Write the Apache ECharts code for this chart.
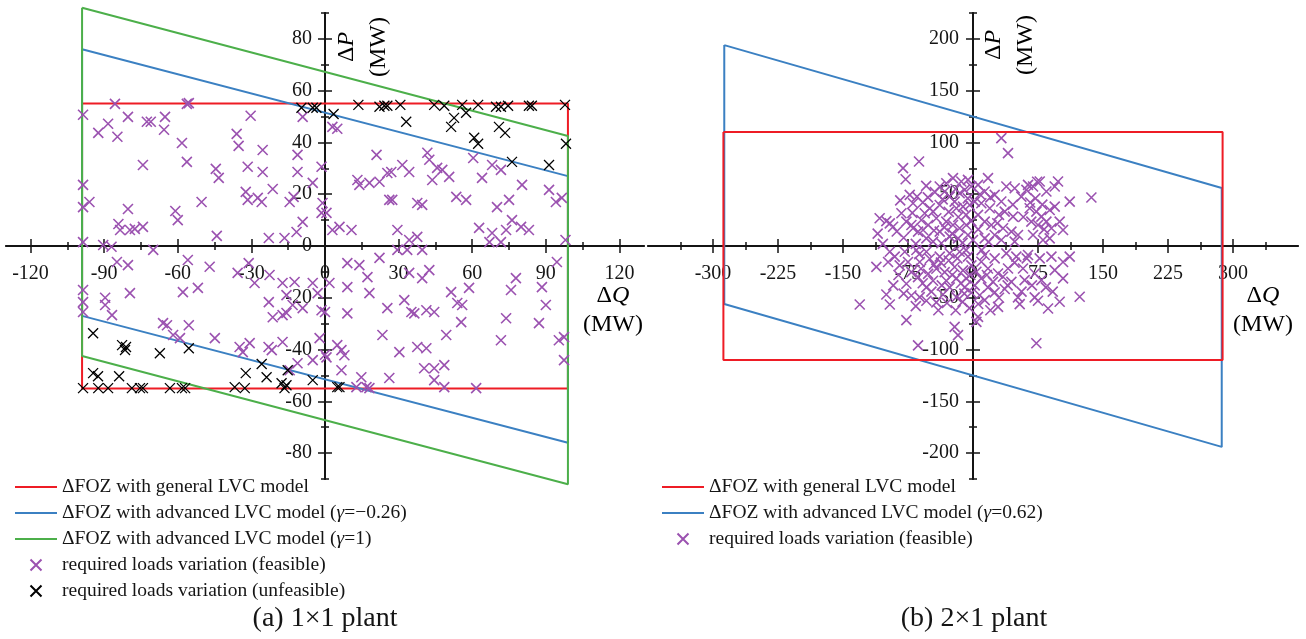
<!DOCTYPE html>
<html>
<head>
<meta charset="utf-8">
<script src="https://cdn.jsdelivr.net/npm/echarts@6/dist/echarts.min.js"></script>
<style>html,body{margin:0;padding:0;background:#fff}#main{width:1306px;height:639px}</style>
</head>
<body>
<div id="main"></div>
<script>
// ---- data: (a) 1x1 plant ----
const fozGeneralA_q = [-99, 99, 99, -99, -99];
const fozGeneralA_p = [55, 55, -55, -55, 55];
const fozAdvNegA_q = [-99, 99, 99, -99, -99];
const fozAdvNegA_p = [76, 27, -76, -27, 76];
const fozAdvOneA_q = [-99, 99, 99, -99, -99];
const fozAdvOneA_p = [92, 42.5, -92, -42.5, 92];

const feasibleA = [
  [-98.6,50.7],[-85.6,54.9],[-92.4,43.7],[-88.4,47.2],[-84.6,42.2],[-80.3,49.9],[-72.6,48],[-71,48],[-65.2,49.9],[-65.6,44.9],
  [-56.3,54.9],[-55.5,55.2],[-58.3,39.8],[-56.3,32.5],[-74.2,31.3],[-98.6,23.6],[-96,17],[-98.6,15],[-80.3,14.3],[-84.2,8.5],
  [-83.5,6.2],[-79.5,6.2],[-77.5,6.6],[-74.2,7.4],[-61,13.5],[-60,10],[-50.3,17],[-44.1,3.9],[-44.5,29.8],[-43.3,26.3],
  [-36,43.3],[-35.2,38.7],[-30.3,50.3],[-31.5,30.6],[-32.3,20.9],[-31.5,17.8],[-27.4,18.6],[-25.8,17],[-25.4,37.1],[-25.4,28.6],
  [-21.3,22],[-22.9,3.1],[-16.5,3.1],[-14.4,17],[-11.2,35.2],[-11.2,28.6],[-12.8,19],[-9.1,9.3],[-11.6,5.4],[-9.1,49.9],
  [-5,24.4],[-1.4,30.6],[-1.4,12.8],[-90.4,0.4],[-87,-0.3],
  [3,46],[5,45.3],[21,35.2],[13.2,25.5],[14,23.6],[18.1,24.4],[22.2,24.8],[25.4,28.2],[27,28.6],[31.5,31.3],
  [34.3,28.6],[26.2,17.8],[27.4,17.8],[37.6,16.6],[39.6,15.9],[41.7,36],[42.5,33.3],[43.7,25.5],[45.7,30.2],[47.8,29.4],
  [50.6,26.7],[53.5,19],[57.5,17.8],[60.4,34],[64,26.3],[68.1,31.3],[71.7,29.4],[70.1,15],[75,17.8],[80.3,23.6],
  [91.3,21.7],[94.1,17],[96.5,18.6],[0.6,12.8],[-1,16.6],[3,6.2],[5.9,7.4],[10.8,6.2],[29.5,6.2],[34.3,2.3],
  [37.6,3.5],[62.8,7],[68.1,5],[73.8,6.2],[76.2,10],[79.9,7.4],[83.1,6.2],[98,2.3],
  [-98.6,1.5],[-84.8,-6.2],[-80.3,-7.4],[-70,-1.5],[-55.9,-5.4],[-47,-8],[-98.6,-17],[-98.6,-21.7],[-98.6,-25.5],[-89.6,-20],
  [-89.6,-22.8],[-86.8,-26.7],[-79.5,-18.2],[-57.9,-17.8],[-51.8,-16.2],[-66,-29.8],[-64.4,-30.6],[-61.9,-34.4],[-59.1,-35.6],[-55.5,-30.6],
  [-44.9,-35.6],[-35.6,-10.4],[-31.1,-6.6],[-28.7,-14.3],[-22.6,-11.2],[-22.9,-21.7],[-21.3,-27.5],[-17.3,-14.3],[-12.4,-13.9],[-15.7,-19],
  [-15.7,-25.9],[-17.3,-26.7],[-13.2,-22.8],[-9.1,-24],[-5,-14.3],[-3,-18.2],[-1.4,-24.8],[-2.2,-35.6],[-34.8,-39],[-33.5,-41],
  [-30.7,-37.5],[-23,-39],[-21.7,-40.2],[-17.3,-37.1],[-14.4,-48],[-11.2,-45.3],[-5,-44.1],[0,-42],
  [9.1,-6.6],[14,-7.4],[17.3,-12],[22.2,-4.6],[18.1,-18.2],[9.1,-15.9],[1.8,-14.3],[0,-25.5],[9.1,-26],[32.3,-20.9],
  [25.4,-24],[23.4,-34.4],[30.3,-41],[35.2,-25.5],[36.4,-26],[41.3,-24.8],[44.5,-25.5],[37.6,-39],[41.3,-39.5],[40.4,-47.2],
  [44.5,-47.2],[48.6,-46],[44.5,-51.8],[48.6,-54.5],[61.6,-54.9],[14.8,-50.7],[16.9,-54.5],[18.1,-54.9],[12.8,-54.5],[26.2,-51],
  [6.7,-40.2],[5,-38.3],[0.6,-43],[6.7,-48],[7.9,-42.2],[49.4,-34.4],[51.4,-17.8],[53.9,-22],[55.9,-22.8],[58.7,-16.2],
  [55.5,-29.4],[71.7,-36.4],[73.8,-27.9],[75.8,-17],[77.8,-12.4],[87.2,-29.8],[88.4,-15.9],[90,-22.8],[94.5,-6.2],[95.3,-36.4],
  [97.4,-35.2],[97.4,-44.1],[29.5,-1.5],[33.5,-1.5],[39.6,-1.5],[67,1.5],[71.7,1.5],[42.5,-9.3],[39.6,-12.4],[34.3,-10.4]
];

const unfeasibleA = [
  [-9.6,53.4],[-5,53.4],[-3.5,53.4],[3.5,51],[13.6,54.5],[22.2,53.8],[24.2,54.2],[25.4,54.2],[30.7,54.5],[33.1,48],
  [44.5,54.5],[48.6,54.2],[51.4,46],[52.6,49.5],[55.9,54.5],[57.5,51.5],[62.4,54.5],[60.8,41.8],[62.4,39.5],[69.7,53.8],
  [71.7,53.8],[74.6,54.2],[70.9,46],[73.4,43.7],[76.2,32.5],[83.1,54.2],[84.3,54.2],[91.3,31.3],[97.8,54.5],[98.2,39.5],
  [-94.5,-33.7],[-82.7,-38.3],[-81.1,-39],[-81.5,-40.2],[-67.3,-41.4],[-55.5,-39.5],[-94.5,-49.1],[-92.5,-50.3],[-83.9,-50.3],[-98.6,-54.9],
  [-92.4,-54.9],[-88.4,-54.9],[-78.7,-54.9],[-75.4,-54.9],[-74.2,-54.9],[-63.2,-54.9],[-58.3,-54.9],[-57,-54.9],[-36.8,-54.5],[-32.7,-54.9],
  [-32.3,-49.1],[-25.8,-45.6],[-23.8,-50.7],[-17.7,-53],[-15.7,-53.8],[-16.5,-54.9],[-15.2,-48],[-5,-51.8],[5,-54.5],[5.9,-54.5]
];

// ---- data: (b) 2x1 plant ----
const fozGeneralB_q = [-288, 288, 288, -288, -288];
const fozGeneralB_p = [110, 110, -110, -110, 110];
const fozAdvB_q = [-287, 287, 287, -287, -287];
const fozAdvB_p = [194, 56, -194, -56, 194];

const feasibleB = [
  [-62.3,81.6],[-80.7,75.2],[-77.7,64.5],[-73,49.4],[-64.6,47.7],[-69.2,41.3],[-82.6,31.6],[-107.7,26.8],[-96,21.9],[-92.2,18.6],
  [-100,24],[-76.9,23.5],[-71.1,20.3],[-59.6,25.1],[-55.7,31.6],[-49.9,36.4],[-38.4,57.4],[-30.8,60.6],[-23.1,65.5],[-13.5,62.3],
  [-5.8,63.9],[-32.7,52.6],[-26.9,47.7],[-21.2,42.9],[-38.4,39.6],[-46.1,33.2],[-42.3,26.8],[-15.4,50.9],[-9.6,54.2],[-1.9,57.4],
  [-19.2,36.4],[-11.5,38],[-3.8,39.6],[2,42.9],[-51.8,20.3],[-57.6,15.5],[-63.4,13.9],[-69.2,17.1],[-30.8,23.5],[-23.1,20.3],
  [-15.4,17.1],[-7.7,20.3],[-38.4,13.9],[-26.9,9],[-17.3,7.4],[-53.8,7.4],[-46.1,4.2],[-36.5,2.6],[-5.8,10.6],[0,5.8],
  [-111.5,-20.1],[-96,-5.5],[-90.3,-10.3],[-78.7,-5.5],[-65.3,-3.9],[-53.8,-5.5],[-98,-15.5],[-84.6,-18.7],[-75,-15.5],[-61.5,-15.5],
  [-49.9,-12.3],[-38.4,-10.3],[-26.9,-7.1],[-15.4,-5.5],[-5.8,-10.3],[-71.1,-25.2],[-63.4,-30],[-51.8,-26.9],[-42.3,-22],[-32.7,-25.2],
  [-21.2,-20.3],[-11.5,-23.6],[-1.9,-18.7],[-100,-46.8],[-96,-56.5],[-130.7,-56.5],[-76.9,-36.5],[-71.1,-47.8],[-61.5,-49.4],[-53.8,-40],
  [-46.1,-33.6],[-53.8,-52.9],[-42.3,-54.5],[-34.6,-46.8],[-26.9,-40],[-19.2,-49.4],[-9.6,-40],[-1.9,-45.2],[-30.8,-33.6],[-19.2,-31.3],
  [-7.7,-31.3],[-76.9,-71.6],[-63.4,-95.9],[-21.2,-78.1],[-17.3,-86.1],
  [32.7,104.2],[40.4,89.7],[17.3,65.5],[5.8,59],[13.5,52.6],[25,49.4],[32.7,43],[38.5,57.4],[48.1,55.8],[55.8,47.7],
  [63.5,59],[69.3,57.4],[61.6,54.2],[77,62.3],[84.7,52.6],[94.3,57.4],[98.1,62.3],[111.6,42.9],[136.6,46.8],[9.6,41.3],
  [19.3,36.4],[5.8,30],[13.5,23.5],[21.2,20.3],[36.6,33.2],[46.2,28.4],[34.7,17.1],[44.3,13.9],[65.4,36.4],[73.1,33.2],
  [78.9,28.4],[88.5,34.8],[94.3,38],[67.3,23.5],[75,20.3],[84.7,23.5],[90.5,17.1],[100,23.5],[103.9,15.5],[69.3,10.6],
  [80.8,5.8],[88.5,7.4],[25,10.6],[32.7,5.8],[13.5,7.4],[51.9,10.6],[48.1,4.2],
  [13.5,-8.7],[25,-12],[38.5,-7.1],[50,-10.3],[63.5,-8.7],[77,-12],[90.5,-10.3],[103.9,-15.5],[111.6,-10.3],[17.3,-21.7],
  [28.9,-26.5],[40.4,-21.7],[9.6,-31.3],[23.1,-34.6],[34.6,-29.7],[44.3,-34.6],[57.7,-21.7],[59.6,-33],[71.2,-26.5],[78.9,-33],
  [103.9,-31.3],[94.3,-23.3],[17.3,-39.9],[25,-44.8],[36.6,-41.5],[51.9,-49.6],[53.9,-56.1],[71.2,-49.6],[75,-52.9],[86.6,-60.3],
  [100,-53.8],[123.1,-49],[28.9,-58.8],[5.8,-68.4],[3.9,-73.3],[73.1,-93.9],[7.7,-47.6],[13.5,-52.3],[9.6,-15.2],[3.9,-24.9],
  [-58,42],[-52,47],[-44,52],[-35,45],[-28,33],[-17,28],[-8,30],[-2,24],[-45,15],[-33,18],
  [-24,12],[-12,3],[-62,-8],[-45,-18],[-37,-16],[-28,-14],[-18,-12],[-8,-4],[-3,-28],[-14,-36],
  [-24,-28],[-36,-38],[-48,-44],[-58,-36],[-66,-58],[-40,-62],[-30,-55],[-12,-54],[-4,-60],[-86,-28],
  [-88,14],[-80,8],[-66,2],[-84,44],[-92,-38],[6,16],[10,-4],[18,4],[28,22],[20,47],
  [30,30],[40,-38],[48,-16],[56,-44],[62,-12],[66,42],[72,46],[80,40],[82,16],[68,-38],
  [84,-40],[92,-44],[6,-56],[20,-62],[30,-50],[16,-28],[2,-38],[46,40],[58,28],[74,62],
  [8,50],[-10,-46],[-20,-62],[-54,58],[-70,32],[-20,55],[-6,46],[-60,-22],[-80,-46],[-104,2],[-110,12]
];

// ---- axis ticks ----
const ticksAx_major = [-120, -90, -60, -30, 0, 30, 60, 90, 120];
const ticksAx_minor = [-105, -75, -45, -15, 15, 45, 75, 105];
const ticksAy_major = [-80, -60, -40, -20, 0, 20, 40, 60, 80];
const ticksAy_minor = [-90, -70, -50, -30, -10, 10, 30, 50, 70, 90];
const ticksBx_major = [-300, -225, -150, -75, 0, 75, 150, 225, 300];
const ticksBx_minor = [-337.5, -262.5, -187.5, -112.5, -37.5, 37.5, 112.5, 187.5, 262.5, 337.5];
const ticksBy_major = [-200, -150, -100, -50, 0, 50, 100, 150, 200];
const ticksBy_minor = [-225, -175, -125, -75, -25, 25, 75, 125, 175, 225];

const nameRed = 'ΔFOZ with general LVC model';
const nameBlueA = 'ΔFOZ with advanced LVC model (γ=−0.26)';
const nameGreenA = 'ΔFOZ with advanced LVC model (γ=1)';
const nameBlueB = 'ΔFOZ with advanced LVC model (γ=0.62)';
const nameFeas = 'required loads variation (feasible)';
const nameUnfeas = 'required loads variation (unfeasible)';

const FONT = '"Liberation Serif", "Times New Roman", serif';
const INK = '#151515';
const RED = '#ee1c25', BLUE = '#3b80c2', GREEN = '#4caf4a', PURPLE = '#9b52b0';
const CROSS = 'path://M0,0L10,10M10,0L0,10';
const DASH = 'path://M0,0H42V2H0Z';

const zip = (q, p) => q.map((v, i) => [v, p[i]]);

// label axis sits at the zero line through a negative offset;
// the other axes draw the line and the crossing major / minor ticks
function axisGroup(dim, gridIndex, min, max, majors, minors, margin, zeroOffset) {
  const pos = dim === 'x' ? 'bottom' : 'left';
  const base = {
    type: 'value', gridIndex, min, max, position: pos,
    splitLine: { show: false },
    axisLine: { onZero: true, lineStyle: { color: INK, width: 1.5 } }
  };
  const tick = (vals, len, inside) => ({ show: true, customValues: vals, length: len, inside, lineStyle: { color: INK, width: 1.5 } });
  return [
    Object.assign({}, base, { offset: zeroOffset, axisLine: { show: false, onZero: false },
      axisTick: { show: false },
      axisLabel: { customValues: majors, margin, color: INK, fontFamily: FONT, fontSize: 20 } }),
    Object.assign({}, base, { axisTick: tick(majors, 7, true), axisLabel: { show: false } }),
    Object.assign({}, base, { axisTick: tick(majors, 7, false), axisLabel: { show: false } }),
    Object.assign({}, base, { axisTick: tick(minors, 4, false), axisLabel: { show: false } }),
    Object.assign({}, base, { axisTick: tick(minors, 4, true), axisLabel: { show: false } })
  ];
}

function lineSeries(name, data, color, axis, z) {
  return { type: 'line', name, data, xAxisIndex: axis, yAxisIndex: axis, symbol: 'none',
    clip: false, lineStyle: { color, width: 2 }, itemStyle: { color }, z, silent: true };
}
function crossSeries(name, data, color, axis, w) {
  return { type: 'scatter', name, data, xAxisIndex: axis, yAxisIndex: axis, symbol: CROSS,
    symbolSize: 10, symbolKeepAspect: true,
    itemStyle: { color, borderColor: color, borderWidth: w, opacity: 1 }, z: 6, silent: true };
}

const legendText = {
  fontFamily: FONT, fontSize: 19.5, color: INK, lineHeight: 20,
  rich: { i: { fontFamily: FONT, fontSize: 19.5, color: INK, fontStyle: 'italic', lineHeight: 20 } }
};
const fmtLegend = (n) => n.replace('γ', '{i|γ}');
const lineItem = (name) => ({ name, icon: DASH });

const nameRich = {
  n: { fontFamily: FONT, fontSize: 24, color: INK, lineHeight: 32 },
  i: { fontFamily: FONT, fontSize: 24, color: INK, fontStyle: 'italic', lineHeight: 32 }
};
const nameRichQ = {
  n: { fontFamily: FONT, fontSize: 24, color: INK, lineHeight: 29 },
  i: { fontFamily: FONT, fontSize: 24, color: INK, fontStyle: 'italic', lineHeight: 29 }
};

let myChart = echarts.init(document.getElementById('main'));

let options = {
  animation: false,
  backgroundColor: '#fff',
  grid: [
    { left: 6, top: 13, width: 638, height: 466, outerBoundsMode: 'none' },
    { left: 648, top: 13, width: 650, height: 466, outerBoundsMode: 'none' }
  ],
  xAxis: [].concat(
    axisGroup('x', 0, -130, 130, ticksAx_major, ticksAx_minor, 18, -233),
    axisGroup('x', 1, -375, 375, ticksBx_major, ticksBx_minor, 18, -233)
  ),
  yAxis: [].concat(
    axisGroup('y', 0, -90, 90, ticksAy_major, ticksAy_minor, 13, -319),
    axisGroup('y', 1, -225, 225, ticksBy_major, ticksBy_minor, 14, -325)
  ),
  legend: [
    { left: 10, top: 472, orient: 'vertical', itemWidth: 42, itemHeight: 11, itemGap: 6,
      selectedMode: false,
      data: [lineItem(nameRed), lineItem(nameBlueA), lineItem(nameGreenA), nameFeas, nameUnfeas],
      textStyle: legendText, formatter: fmtLegend },
    { left: 657, top: 472, orient: 'vertical', itemWidth: 42, itemHeight: 11, itemGap: 6,
      selectedMode: false,
      data: [lineItem(nameRed), lineItem(nameBlueB), nameFeas],
      textStyle: legendText, formatter: fmtLegend }
  ],
  graphic: [
    { type: 'text', x: 363, y: 47, rotation: Math.PI / 2,
      style: { text: '{n|Δ}{i|P}\n{n|(MW)}', rich: nameRich, align: 'center', verticalAlign: 'middle' } },
    { type: 'text', x: 1010, y: 45, rotation: Math.PI / 2,
      style: { text: '{n|Δ}{i|P}\n{n|(MW)}', rich: nameRich, align: 'center', verticalAlign: 'middle' } },
    { type: 'text', x: 613, y: 310,
      style: { text: '{n|Δ}{i|Q}\n{n|(MW)}', rich: nameRichQ, align: 'center', verticalAlign: 'middle' } },
    { type: 'text', x: 1263, y: 310,
      style: { text: '{n|Δ}{i|Q}\n{n|(MW)}', rich: nameRichQ, align: 'center', verticalAlign: 'middle' } },
    { type: 'text', x: 325, y: 619,
      style: { text: '(a) 1×1 plant', font: '28px ' + FONT, fill: INK, align: 'center', verticalAlign: 'middle' } },
    { type: 'text', x: 974, y: 619,
      style: { text: '(b) 2×1 plant', font: '28px ' + FONT, fill: INK, align: 'center', verticalAlign: 'middle' } }
  ],
  series: [
    lineSeries(nameRed, zip(fozGeneralA_q, fozGeneralA_p), RED, 0, 3),
    lineSeries(nameBlueA, zip(fozAdvNegA_q, fozAdvNegA_p), BLUE, 0, 3),
    lineSeries(nameGreenA, zip(fozAdvOneA_q, fozAdvOneA_p), GREEN, 0, 3),
    crossSeries(nameFeas, feasibleA, PURPLE, 0, 1.6),
    crossSeries(nameUnfeas, unfeasibleA, '#000', 0, 1.3),
    lineSeries(nameBlueB, zip(fozAdvB_q, fozAdvB_p), BLUE, 5, 3),
    lineSeries(nameRed, zip(fozGeneralB_q, fozGeneralB_p), RED, 5, 4),
    crossSeries(nameFeas, feasibleB, PURPLE, 5, 1.6)
  ]
};
myChart.setOption(options);
</script>
</body>
</html>
